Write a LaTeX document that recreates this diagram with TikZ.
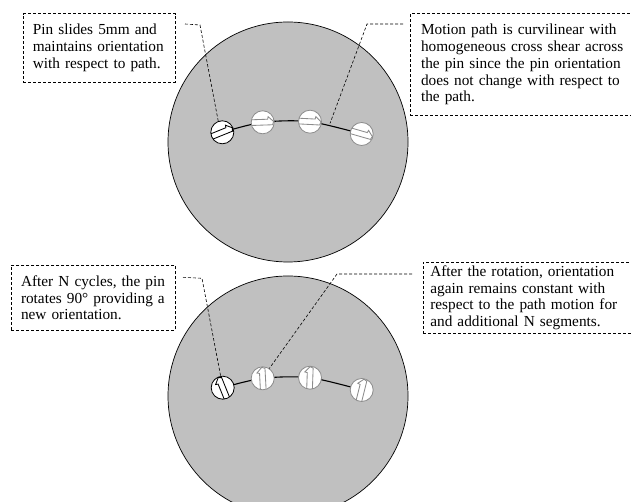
\documentclass[tikz,border=0pt]{standalone}
\usepackage{fontspec}
\setmainfont{Liberation Serif}
\usetikzlibrary{backgrounds}
\definecolor{platefill}{HTML}{C0C0C0}
\definecolor{peggray}{HTML}{8C8C8C}
\tikzset{
  plate/.style={draw=black, line width=0.7pt, fill=platefill},
  peg/.style={circle, draw=peggray, line width=0.8pt, fill=white, minimum size=23pt, inner sep=0pt},
  firstpeg/.style={draw=black},
  track/.style={line width=1.1pt, black},
  note/.style={draw, line width=0.6pt, dash pattern=on 3pt off 2pt, anchor=north west, align=left,
               font=\fontsize{15.3}{16.9}\selectfont, inner xsep=9.5pt,
               execute at begin node={\parindent=0pt}},
  lead/.style={line width=0.6pt, dash pattern=on 3pt off 2pt}
}
\newcommand{\pegarrow}[3]{% peg, angle, colour
  \draw[#3, line width=0.85pt, shift={(#1.center)}, rotate=#2]
    (-11.2,2.9) -- (5,2.9) -- (5.6,5.4) -- (11,0.4) -- (9.8,-2.8) -- (-11.2,-2.8);}

\begin{document}
\begin{tikzpicture}[x=1pt, y=1pt]
\useasboundingbox (0,0) rectangle (631,502);
% notes
\node[note, text width=133pt, minimum height=68.4pt] (slidenote) at (23,488.7)
  {Pin slides 5mm and\\maintains orientation\\with respect to path.};
\node[note, text width=230pt, minimum height=101.7pt, inner xsep=10.7pt] (pathnote) at (410,488.7)
  {Motion path is curvilinear with\\homogeneous cross shear across\\the pin since the pin orientation\\does not change with respect to\\the path.};
\node[note, text width=144.6pt, minimum height=65pt, inner xsep=9.7pt] (turnnote) at (11,237)
  {After N cycles, the pin\\rotates 90° providing a\\new orientation.};
\node[note, text width=230pt, minimum height=71.6pt, inner xsep=7.3pt] (againnote) at (422.7,240.3)
  {After the rotation, orientation\\again remains constant with\\respect to the path motion for\\and additional N segments.};

% pegs before the turn
\node[peg, firstpeg] (p1) at (222.3,369.7) {};
\node[peg] (p2) at (262.7,379.7) {};
\node[peg] (p3) at (310,380.3) {};
\node[peg] (p4) at (361.7,368) {};
% pegs after the turn
\node[peg, firstpeg] (q1) at (222.7,114.3) {};
\node[peg] (q2) at (262.7,123.7) {};
\node[peg] (q3) at (310,124.3) {};
\node[peg] (q4) at (361.7,112) {};

\begin{scope}[on background layer]
\draw[plate] (288,360) circle (120pt);
\draw[plate] (288,106) circle (120pt);
\draw[track] plot[smooth] coordinates {(p1.center) (p2.center) (p3.center) (p4.center)};
\draw[track] plot[smooth] coordinates {(q1.center) (q2.center) (q3.center) (q4.center)};
\end{scope}

\pegarrow{p1}{22}{black}
\pegarrow{p2}{2}{peggray}
\pegarrow{p3}{-3}{peggray}
\pegarrow{p4}{-16}{peggray}
\pegarrow{q1}{112}{black}
\pegarrow{q2}{93}{peggray}
\pegarrow{q3}{88}{peggray}
\pegarrow{q4}{76}{peggray}

% leaders
\coordinate (slidetail) at (185,478);
\coordinate (slidebend) at (200,477);
\coordinate (pathtail) at (403,478);
\coordinate (pathbend) at (367,478);
\coordinate (pathend) at (330,378.6);
\coordinate (turntail) at (183,224.7);
\coordinate (turnbend) at (202,223.7);
\coordinate (againtail) at (412,228);
\coordinate (againbend) at (337,228);
\draw[lead] (slidetail) -- (slidebend) -- (p1.110);
\draw[lead] (pathtail) -- (pathbend) -- (pathend);
\draw[lead] (turntail) -- (turnbend) -- (q1.100);
\draw[lead] (againtail) -- (againbend) -- (q2.56);
\end{tikzpicture}
\end{document}
